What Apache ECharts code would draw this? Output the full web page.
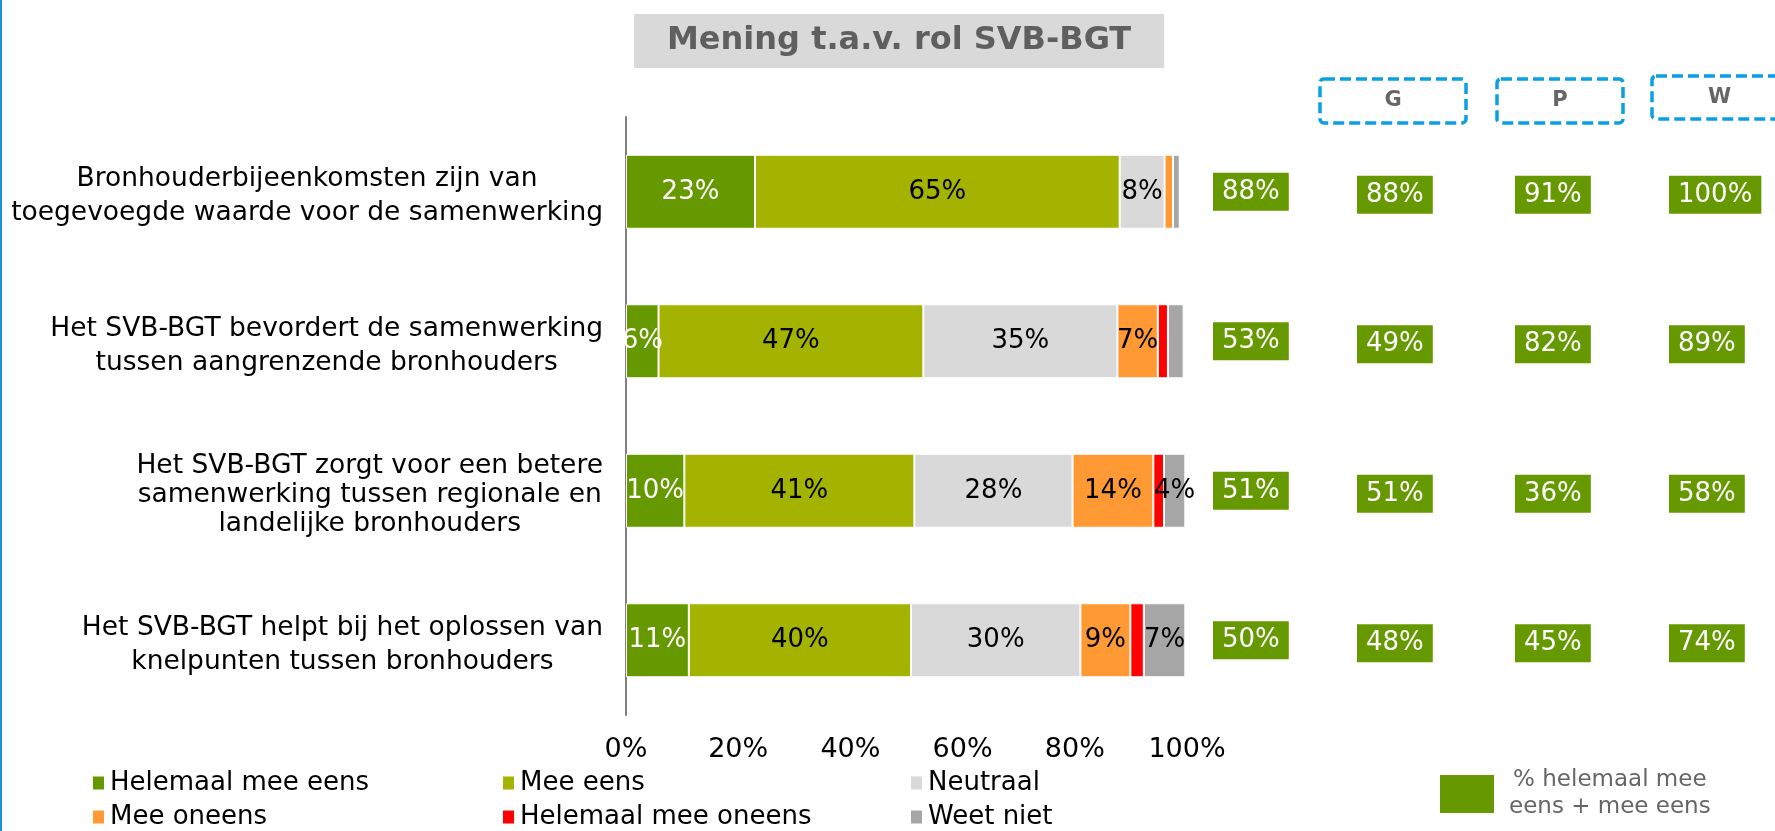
<!DOCTYPE html>
<html>
<head>
<meta charset="utf-8">
<script src="https://cdn.jsdelivr.net/npm/echarts@6/dist/echarts.min.js"></script>
<style>
html, body { margin: 0; padding: 0; background: #fff; }
#chart { width: 1775px; height: 831px; }
</style>
</head>
<body>
<div id="chart"></div>
<script>
// stellingen (y-as), van boven naar beneden
const statements = [
  'Bronhouderbijeenkomsten zijn van\ntoegevoegde waarde voor de samenwerking',
  'Het SVB-BGT bevordert de samenwerking\ntussen aangrenzende bronhouders',
  'Het SVB-BGT zorgt voor een betere\nsamenwerking tussen regionale en\nlandelijke bronhouders',
  'Het SVB-BGT helpt bij het oplossen van\nknelpunten tussen bronhouders'
]
const answerNames = ['Helemaal mee eens', 'Mee eens', 'Neutraal', 'Mee oneens', 'Helemaal mee oneens', 'Weet niet']

const helemaalMeeEens = [23, 5.8, 10.4, 11.2]
const meeEens = [65, 47.2, 41, 39.6]
const neutraal = [8, 34.6, 28.2, 30.2]
const meeOneens = [1.5, 7.2, 14.4, 8.9]
const helemaalMeeOneens = [0, 1.8, 1.9, 2.4]
const weetNiet = [1.2, 2.8, 3.8, 7.4]
const xTicks = [0, 20, 40, 60, 80, 100]

// % helemaal mee eens + mee eens: totaal en per groep
const groupNames = ['', 'G', 'P', 'W']
const agreeTotal = [88, 53, 51, 50]
const agreeG = [88, 49, 51, 48]
const agreeP = [91, 82, 36, 45]
const agreeW = [100, 89, 58, 74]
const agreeName = '% helemaal mee eens + mee eens'

const FONT = 'DejaVu Sans'
const answerColors = ['#669900', '#a3b300', '#d9d9d9', '#ff9933', '#ff0000', '#a6a6a6']
const answerData = [helemaalMeeEens, meeEens, neutraal, meeOneens, helemaalMeeOneens, weetNiet]
const agreeData = [agreeTotal, agreeG, agreeP, agreeW]

const plotTop = 117
const plotHeight = 598
const boxLeft = [1213, 1357, 1515, 1669]
const boxDy = [0, 3, 3, 3]
const headerBoxes = [
  { x: 1320, y: 79, w: 146, h: 44 },
  { x: 1497, y: 79, w: 126, h: 44 },
  { x: 1652, y: 76, w: 135, h: 43 }
]

const chart = echarts.init(document.getElementById('chart'))

const grids = [{ left: 626, top: plotTop, width: 561, height: plotHeight }]
const xAxes = [{
  type: 'value',
  min: xTicks[0],
  max: xTicks[xTicks.length - 1],
  interval: xTicks[1] - xTicks[0],
  axisLine: { show: false },
  axisTick: { show: false },
  splitLine: { show: false },
  axisLabel: { formatter: '{value}%', color: '#000', fontSize: 27, fontFamily: FONT, margin: 21 }
}]
const yAxes = [{
  type: 'category',
  data: statements,
  inverse: true,
  axisLine: { lineStyle: { color: '#7f7f7f', width: 2 } },
  axisTick: { length: 7, lineStyle: { color: '#7f7f7f', width: 2 } },
  axisLabel: {
    margin: 23,
    align: 'right',
    padding: [9, 0, 0, 0],
    formatter: v => {
      const lines = v.split('\n')
      const st = lines.length > 2 ? 't' : 'c'
      return lines.map(l => '{' + st + '|' + l + '}').join('\n')
    },
    rich: {
      c: { align: 'center', fontSize: 26.5, lineHeight: 34, color: '#000', fontFamily: FONT },
      t: { align: 'center', fontSize: 26.5, lineHeight: 29, color: '#000', fontFamily: FONT }
    }
  }
}]

const series = answerData.map((vals, i) => ({
  name: answerNames[i],
  type: 'bar',
  stack: 'total',
  barWidth: 74,
  data: vals,
  itemStyle: { color: answerColors[i], borderColor: '#fff', borderWidth: 1 },
  label: {
    show: true,
    position: 'inside',
    fontSize: 26,
    fontFamily: FONT,
    color: i === 0 ? '#fff' : '#000',
    textBorderWidth: 0,
    formatter: p => p.value >= 3.5 ? Math.round(p.value) + '%' : ''
  }
}))

agreeData.forEach((vals, c) => {
  grids.push({ left: boxLeft[c], top: plotTop, width: 10, height: plotHeight })
  xAxes.push({ gridIndex: c + 1, type: 'value', min: 0, max: 1, show: false })
  yAxes.push({ gridIndex: c + 1, type: 'category', data: statements, inverse: true, show: false })
  series.push({
    name: agreeName,
    type: 'scatter',
    xAxisIndex: c + 1,
    yAxisIndex: c + 1,
    symbol: 'rect',
    symbolSize: 0,
    itemStyle: { color: '#669900', opacity: 1 },
    data: vals.map((v, r) => [0, r, v]),
    encode: { x: 0, y: 1 },
    label: {
      show: true,
      position: 'right',
      distance: 0,
      offset: [0, boxDy[c]],
      formatter: p => p.value[2] + '%',
      color: '#fff',
      fontSize: 26,
      fontFamily: FONT,
      backgroundColor: '#669900',
      padding: [6, 9, 6, 9]
    }
  })
})

const legendCols = [[0, 3], [1, 4], [2, 5]]
const legendLeft = [91, 501, 909]
const legends = legendCols.map((idx, k) => ({
  orient: 'vertical',
  left: legendLeft[k],
  top: 770,
  padding: 0,
  itemGap: 8,
  itemWidth: 13,
  itemHeight: 15,
  icon: 'rect',
  data: idx.map(i => answerNames[i]),
  textStyle: { fontSize: 26, color: '#000', fontFamily: FONT }
}))
legends.push({
  left: 1440,
  top: 769,
  padding: 0,
  itemWidth: 54,
  itemHeight: 38,
  icon: 'rect',
  data: [agreeName],
  formatter: () => '{c|% helemaal mee}\n{c|eens + mee eens}',
  textStyle: {
    padding: [0, 0, 0, 10],
    rich: { c: { align: 'center', fontSize: 23, lineHeight: 27, color: '#666', fontFamily: FONT } }
  }
})

const graphics = [{ type: 'rect', shape: { x: 0, y: 0, width: 2, height: 831 }, style: { fill: '#1e90d8' } }]
headerBoxes.forEach((b, k) => {
  graphics.push({
    type: 'rect',
    shape: { x: b.x, y: b.y, width: b.w, height: b.h, r: 4 },
    style: { fill: 'none', stroke: '#0aa0e2', lineWidth: 3.5, lineDash: [11, 5] }
  })
  graphics.push({
    type: 'text',
    x: b.x + b.w / 2,
    y: b.y + b.h / 2,
    style: {
      text: groupNames[k + 1],
      fill: '#666',
      font: 'bold 21px "DejaVu Sans"',
      align: 'center',
      verticalAlign: 'middle'
    }
  })
})

chart.setOption({
  animation: false,
  title: {
    text: 'Mening t.a.v. rol SVB-BGT',
    left: 634,
    top: 14,
    backgroundColor: '#d9d9d9',
    padding: [11, 33],
    textStyle: { fontSize: 32, fontWeight: 'bold', color: '#5f5f5f', fontFamily: FONT }
  },
  grid: grids,
  xAxis: xAxes,
  yAxis: yAxes,
  legend: legends,
  graphic: graphics,
  series: series
})
window.addEventListener('resize', () => chart.resize())
</script>
</body>
</html>
